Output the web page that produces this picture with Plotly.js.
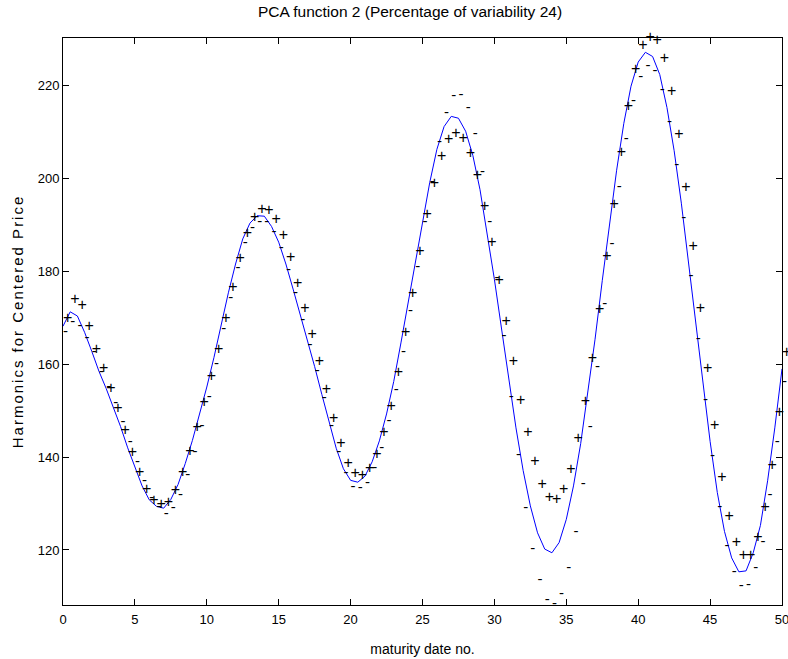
<!DOCTYPE html>
<html>
<head>
<meta charset="utf-8">
<script src="https://cdn.plot.ly/plotly-3.0.1.min.js"></script>
<style>
html,body{margin:0;padding:0;background:#ffffff;}
#chart{width:788px;height:659px;}
#chart .ytitle{letter-spacing:2px;}
</style>
</head>
<body>
<div id="chart"></div>
<script>
// maturity date grid (argument values)
const maturity = [0,0.5,1,1.5,2,2.5,3,3.5,4,4.5,5,5.5,6,6.5,7,7.5,8,8.5,9,9.5,
  10,10.5,11,11.5,12,12.5,13,13.5,14,14.5,15,15.5,16,16.5,17,17.5,18,18.5,19,19.5,
  20,20.5,21,21.5,22,22.5,23,23.5,24,24.5,25,25.5,26,26.5,27,27.5,28,28.5,29,29.5,
  30,30.5,31,31.5,32,32.5,33,33.5,34,34.5,35,35.5,36,36.5,37,37.5,38,38.5,39,39.5,
  40,40.5,41,41.5,42,42.5,43,43.5,44,44.5,45,45.5,46,46.5,47,47.5,48,48.5,49,49.5,50];

// mean curve (blue line)
const meanCurve = [168.2,171.3,170.4,166.9,162.8,158.5,154.8,150.9,146.6,142.0,
  137.7,133.8,130.8,129.4,129.0,130.9,134.1,138.6,143.6,149.1,
  155.1,161.5,168.6,175.4,181.6,187.0,190.4,192.0,191.9,189.7,
  186.3,181.6,176.2,170.7,165.3,159.5,153.5,147.4,141.9,137.5,
  135.0,134.6,135.9,139.0,143.5,149.3,156.3,164.6,173.3,182.5,
  191.3,199.1,206.3,211.2,213.4,213.0,210.2,205.0,197.6,188.4,
  178.3,167.6,156.7,146.3,137.1,129.5,123.7,120.2,119.4,121.6,
  126.6,133.8,142.9,153.7,165.4,178.0,190.1,201.8,211.9,219.9,
  225.1,227.2,226.3,222.4,215.3,206.0,194.7,182.1,168.7,155.6,
  143.4,132.4,124.0,118.3,115.3,115.5,119.4,125.3,134.9,146.3,
  159.0];

// mean + harmonic ("+" symbols)
const plusHarmonic = [169.7,173.8,172.5,168.1,163.1,158.9,154.6,150.4,145.7,140.9,
  136.5,132.9,130.6,129.7,130.2,132.8,136.5,141.2,146.3,151.6,
  157.3,163.1,169.7,176.5,182.6,188.0,191.5,193.3,193.1,191.0,
  187.6,183.0,177.3,172.0,166.4,160.4,154.4,148.3,142.8,138.5,
  136.4,136.0,137.4,140.4,145.2,150.9,158.2,166.7,175.2,184.2,
  192.1,198.9,204.7,208.4,209.7,208.6,205.2,200.5,193.8,186.2,
  178.0,169.1,160.6,152.1,145.2,138.9,134.1,131.3,130.8,132.9,
  137.3,143.9,151.8,161.1,171.6,183.1,194.4,205.5,215.4,223.3,
  228.5,230.2,229.7,225.7,218.6,209.3,198.0,185.3,172.0,158.9,
  146.7,135.6,127.2,121.5,118.7,118.7,122.6,129.0,138.1,149.5,
  162.5];

// mean - harmonic ("-" symbols)
const minusHarmonic = [166.8,169.1,168.2,165.7,162.5,158.2,155.1,151.5,147.5,143.1,
  138.9,134.7,131.1,129.1,127.7,129.0,131.7,136.0,141.0,146.7,
  153.0,160.0,167.5,174.3,180.7,186.0,189.4,190.7,190.7,188.5,
  185.1,180.3,175.2,169.5,164.2,158.6,152.6,146.6,141.0,136.5,
  133.6,133.3,134.4,137.6,141.9,147.7,154.5,162.5,171.5,180.8,
  190.5,199.3,207.9,214.1,217.7,217.9,215.2,209.6,201.4,190.6,
  178.6,166.1,152.9,140.5,129.0,120.1,113.4,109.1,108.3,110.4,
  116.0,123.8,134.1,146.4,159.3,173.0,185.8,198.2,208.5,216.6,
  221.8,224.3,223.1,219.1,212.1,202.8,191.4,178.9,165.4,152.3,
  140.1,129.2,120.8,115.1,112.2,112.3,116.1,121.6,131.7,143.2,
  156.1];

const xTicks = [0,5,10,15,20,25,30,35,40,45,50];
const yTicks = [120,140,160,180,200,220];

const titleText = 'PCA function 2 (Percentage of variability 24)';
const xLabel = 'maturity date no.';
const yLabel = 'Harmonics for Centered Price';

const FONT = 'Liberation Sans, Arial, Helvetica, sans-serif';

const traces = [
  {
    x: maturity, y: meanCurve, type: 'scatter', mode: 'lines',
    line: {color: '#0000ff', width: 1}, hoverinfo: 'skip'
  },
  {
    x: maturity, y: plusHarmonic, type: 'scatter', mode: 'text',
    text: maturity.map(() => '+'), textposition: 'middle right',
    textfont: {family: FONT, size: 16, color: '#000000'},
    cliponaxis: false, hoverinfo: 'skip'
  },
  {
    x: maturity, y: minusHarmonic, type: 'scatter', mode: 'text',
    text: maturity.map(() => '-'), textposition: 'middle right',
    textfont: {family: FONT, size: 15, color: '#000000'},
    cliponaxis: false, hoverinfo: 'skip'
  }
];

const axisCommon = {
  showgrid: false, zeroline: false, showline: true, linecolor: '#000000', linewidth: 1,
  mirror: 'ticks', ticks: 'inside', ticklen: 6, tickwidth: 1, tickcolor: '#000000',
  tickfont: {family: FONT, size: 13, color: '#000000'}, automargin: false,
  ticklabeloverflow: 'allow'
};

const layout = {
  width: 788, height: 659,
  margin: {l: 63, r: 6, t: 38, b: 54, pad: 0},
  paper_bgcolor: '#ffffff', plot_bgcolor: '#ffffff',
  showlegend: false,
  font: {family: FONT, color: '#000000'},
  title: {
    text: titleText, font: {family: FONT, size: 15.5, color: '#000000'},
    xref: 'paper', x: 0.4826, xanchor: 'center',
    yref: 'container', y: 1 - 12/659, yanchor: 'middle'
  },
  xaxis: Object.assign({}, axisCommon, {
    range: [0, 50], tickmode: 'array', tickvals: xTicks, ticktext: xTicks.map(String),
    ticklabelstandoff: 2,
    title: {text: xLabel, font: {family: FONT, size: 14, color: '#000000'}, standoff: 18}
  }),
  yaxis: Object.assign({}, axisCommon, {
    range: [108.15, 230.28], tickmode: 'array', tickvals: yTicks, ticktext: yTicks.map(String),
    title: {text: yLabel, font: {family: FONT, size: 15, color: '#000000'}, standoff: 10}
  })
};

Plotly.newPlot('chart', traces, layout, {displayModeBar: false, staticPlot: true});
</script>
</body>
</html>
